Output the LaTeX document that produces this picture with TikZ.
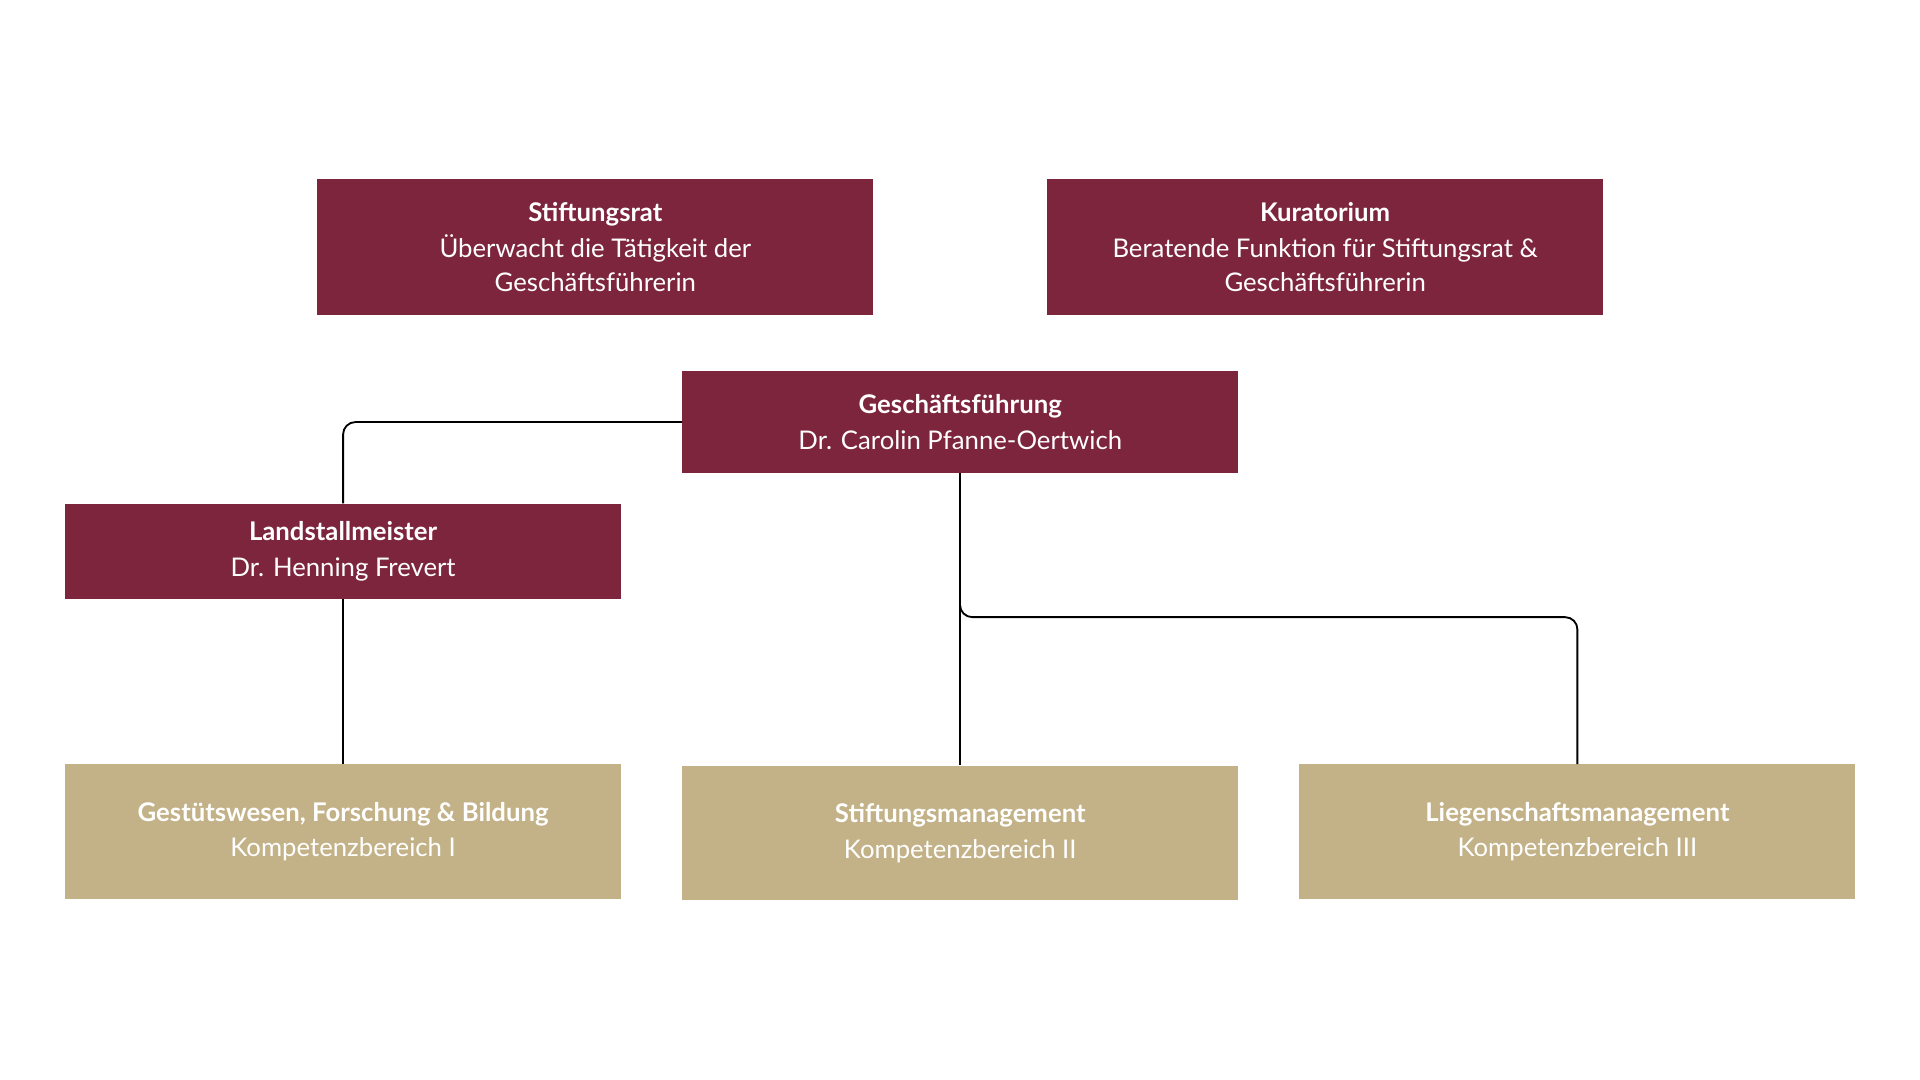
\documentclass[tikz,border=0pt]{standalone}
\usepackage{fontspec}
\setmainfont{Lato}
\definecolor{maroon}{HTML}{7D253C}
\definecolor{gold}{HTML}{C3B287}
\begin{document}
\begin{tikzpicture}[x=1pt,y=-1pt,
 box/.style={anchor=north west,inner sep=0pt,text=white,align=center,font=\fontsize{21}{28}\selectfont},
 red/.style={box,fill=maroon},
 gld/.style={box,fill=gold},
 ln/.style={draw=black,line width=1.5pt,rounded corners=10pt}]
\useasboundingbox (0,0) rectangle (1568,882);
\fill[white] (0,0) rectangle (1568,882);
\node[red,minimum width=454pt,minimum height=111pt] (sr) at (259,146) {\textbf{Stiftungsrat}\\[1pt]\fontseries{l}\selectfont Überwacht die Tätigkeit der\\\fontseries{l}\selectfont Geschäftsführerin};
\node[red,minimum width=454pt,minimum height=111pt] (ku) at (855,146) {\textbf{Kuratorium}\\[1pt]\fontseries{l}\selectfont Beratende Funktion für Stiftungsrat \&\\\fontseries{l}\selectfont Geschäftsführerin};
\node[red,minimum width=454pt,minimum height=83pt] (gf) at (557,303) {\textbf{Geschäftsführung}\\[1pt]\fontseries{l}\selectfont Dr. Carolin Pfanne-Oertwich};
\node[red,minimum width=454pt,minimum height=78pt] (lm) at (53,411) {\textbf{Landstallmeister}\\[1pt]\fontseries{l}\selectfont Dr. Henning Frevert};
\node[gld,minimum width=454pt,minimum height=110pt] (b1) at (53,624) {\textbf{Gestütswesen, Forschung \& Bildung}\\[1pt]\fontseries{l}\selectfont Kompetenzbereich I};
\node[gld,minimum width=454pt,minimum height=110pt] (b2) at (557,625) {\textbf{Stiftungsmanagement}\\[1pt]\fontseries{l}\selectfont Kompetenzbereich II};
\node[gld,minimum width=454pt,minimum height=110pt] (b3) at (1061,624) {\textbf{Liegenschaftsmanagement}\\[1pt]\fontseries{l}\selectfont Kompetenzbereich III};
\draw[ln] (gf.west) -| (lm.north);
\draw[ln] (lm.south) -- (b1.north);
\draw[ln] (gf.south) -- (b2.north);
\draw[ln] (784,470) |- (1100,504) -| (b3.north);
\end{tikzpicture}
\end{document}
